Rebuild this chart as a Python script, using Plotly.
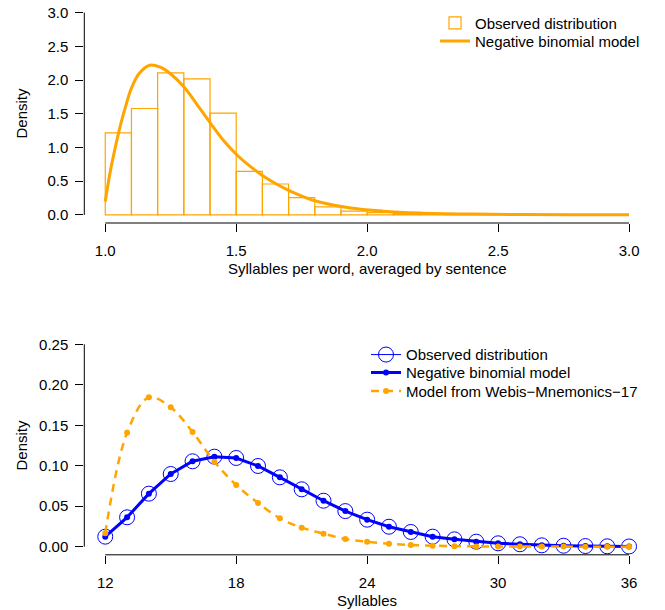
import plotly.graph_objects as go

# ---------------- data ----------------
# Top panel: histogram of syllables per word (averaged by sentence)
hist_bin_centers = [1.05, 1.15, 1.25, 1.35, 1.45, 1.55, 1.65, 1.75, 1.85, 1.95, 2.05, 2.15, 2.25, 2.35, 2.45]
hist_density = [1.215, 1.578, 2.107, 2.018, 1.508, 0.646, 0.458, 0.256, 0.120, 0.057, 0.035, 0.018, 0.008, 0.004, 0.002]
hist_bin_width = 0.1

# Top panel: negative binomial model curve
curve_x = [1.00, 1.02, 1.04, 1.06, 1.08, 1.10, 1.13, 1.17, 1.21, 1.25, 1.30, 1.35, 1.40,
           1.45, 1.50, 1.55, 1.60, 1.65, 1.70, 1.80, 1.93, 2.06, 2.20, 2.40, 2.60, 2.80, 3.00]
curve_y = [0.20, 0.66, 1.03, 1.36, 1.64, 1.88, 2.10, 2.22, 2.19, 2.09, 1.90, 1.64, 1.37,
           1.11, 0.90, 0.73, 0.585, 0.465, 0.365, 0.21, 0.107, 0.056, 0.028, 0.012, 0.005, 0.002, 0.001]

top_xticks = [1.0, 1.5, 2.0, 2.5, 3.0]
top_xticklabels = ["1.0", "1.5", "2.0", "2.5", "3.0"]
top_yticks = [0.0, 0.5, 1.0, 1.5, 2.0, 2.5, 3.0]
top_yticklabels = ["0.0", "0.5", "1.0", "1.5", "2.0", "2.5", "3.0"]

# Bottom panel: syllables per sentence
syllables = [12, 13, 14, 15, 16, 17, 18, 19, 20, 21, 22, 23, 24, 25, 26, 27, 28, 29, 30, 31, 32, 33, 34, 35, 36]
observed = [0.0124, 0.0363, 0.0655, 0.0898, 0.1055, 0.1112, 0.1096, 0.0997, 0.0857, 0.0709, 0.0568,
            0.0440, 0.0334, 0.0247, 0.0182, 0.0124, 0.0091, 0.0062, 0.0042, 0.0030, 0.0017, 0.0012,
            0.0008, 0.0005, 0.0003]
nb_model = [0.0124, 0.0363, 0.0655, 0.0898, 0.1055, 0.1112, 0.1096, 0.0997, 0.0857, 0.0709, 0.0568,
            0.0440, 0.0334, 0.0247, 0.0182, 0.0124, 0.0091, 0.0062, 0.0042, 0.0030, 0.0017, 0.0012,
            0.0008, 0.0005, 0.0003]
webis_model = [0.0165, 0.1408, 0.1845, 0.1722, 0.1417, 0.1050, 0.0762, 0.0540, 0.0351, 0.0235, 0.0161,
               0.0095, 0.0062, 0.0037, 0.0021, 0.0013, 0.0007, 0.0004, 0.0003, 0.0002, 0.0001, 0.0001,
               0.0000, 0.0000, 0.0000]

bot_xticks = [12, 18, 24, 30, 36]
bot_xticklabels = ["12", "18", "24", "30", "36"]
bot_yticks = [0.00, 0.05, 0.10, 0.15, 0.20, 0.25]
bot_yticklabels = ["0.00", "0.05", "0.10", "0.15", "0.20", "0.25"]

# ---------------- styling ----------------
W, H = 665, 610
FONT = "Liberation Sans, Arial, Helvetica, sans-serif"
ORANGE = "#FFA500"
BLUE = "#0000FF"
FS = 15


def px(x):
    return x / W


def py(y):
    return 1 - y / H


fig = go.Figure()

# ---- top panel ----
fig.add_trace(go.Bar(
    x=hist_bin_centers, y=hist_density, width=hist_bin_width,
    marker=dict(color="rgba(255,255,255,0)", line=dict(color=ORANGE, width=1.2)),
    name="Observed distribution", xaxis="x", yaxis="y", legend="legend",
))
fig.add_trace(go.Scatter(
    x=curve_x, y=curve_y, mode="lines", line=dict(color=ORANGE, width=3, shape="spline"),
    name="Negative binomial model", xaxis="x", yaxis="y", legend="legend2",
))

# ---- bottom panel ----
fig.add_trace(go.Scatter(
    x=syllables, y=observed, mode="markers",
    marker=dict(symbol="circle-open", size=15, color=BLUE, line=dict(width=1)),
    name="Observed distribution", xaxis="x2", yaxis="y2", showlegend=False,
))
# legend proxy for observed (circle with thin line, as in the original legend)
fig.add_trace(go.Scatter(
    x=[None], y=[None], mode="lines+markers",
    marker=dict(symbol="circle-open", size=15, color=BLUE, line=dict(width=1)),
    line=dict(color=BLUE, width=1),
    name="Observed distribution", xaxis="x2", yaxis="y2", legend="legend3",
))
fig.add_trace(go.Scatter(
    x=syllables, y=nb_model, mode="lines+markers",
    marker=dict(symbol="circle", size=6, color=BLUE),
    line=dict(color=BLUE, width=3),
    name="Negative binomial model", xaxis="x2", yaxis="y2", legend="legend4",
))
fig.add_trace(go.Scatter(
    x=syllables, y=webis_model, mode="lines+markers",
    marker=dict(symbol="circle", size=6, color=ORANGE),
    line=dict(color=ORANGE, width=2.5, dash="8px,6px", shape="spline"),
    name="Model from Webis\u2212Mnemonics\u221217", xaxis="x2", yaxis="y2", legend="legend5",
))

axis_common = dict(
    showgrid=False, zeroline=False, showline=False, ticks="outside", ticklen=8,
    tickwidth=1, tickcolor="black", tickfont=dict(size=FS, color="black", family=FONT),
    fixedrange=True,
)


def legend_at(x_sym_center, y_center):
    # plotly legend: symbol centre ~20px right of legend x; first row centre ~16px below legend top
    return dict(x=px(x_sym_center - 20), y=py(y_center - 16), xanchor="left", yanchor="top",
                bgcolor="rgba(0,0,0,0)", borderwidth=0,
                font=dict(size=FS, family=FONT, color="black"))


fig.update_layout(
    width=W, height=H,
    margin=dict(l=0, r=0, t=0, b=0),
    paper_bgcolor="white", plot_bgcolor="white",
    font=dict(family=FONT, size=FS, color="black"),
    barmode="overlay",
    xaxis=dict(domain=[px(84.3), px(650)], range=[0.92, 3.08], anchor="y",
               tickmode="array", tickvals=top_xticks, ticktext=top_xticklabels,
               ticklabelstandoff=6, **axis_common),
    yaxis=dict(domain=[py(223), py(4.5)], range=[-0.12, 3.12], anchor="x",
               tickmode="array", tickvals=top_yticks, ticktext=top_yticklabels,
               ticklabelstandoff=4, **axis_common),
    xaxis2=dict(domain=[px(84.3), px(650)], range=[11.04, 36.96], anchor="y2",
                tickmode="array", tickvals=bot_xticks, ticktext=bot_xticklabels,
                ticklabelstandoff=6, **axis_common),
    yaxis2=dict(domain=[py(554.8), py(336.2)], range=[-0.01, 0.26], anchor="x2",
                tickmode="array", tickvals=bot_yticks, ticktext=bot_yticklabels,
                ticklabelstandoff=4, **axis_common),
    legend=legend_at(455, 22.7),
    legend2=legend_at(455, 40.7),
    legend3=legend_at(386, 354.3),
    legend4=legend_at(386, 372.3),
    legend5=legend_at(386, 390.7),
    showlegend=True,
)

# R-style axis lines spanning only the tick range
line_style = dict(color="black", width=1)
fig.add_shape(type="line", xref="x", yref="y domain", x0=top_xticks[0], x1=top_xticks[-1], y0=0, y1=0, line=line_style)
fig.add_shape(type="line", xref="x domain", yref="y", x0=0, x1=0, y0=top_yticks[0], y1=top_yticks[-1], line=line_style)
fig.add_shape(type="line", xref="x2", yref="y2 domain", x0=bot_xticks[0], x1=bot_xticks[-1], y0=0, y1=0, line=line_style)
fig.add_shape(type="line", xref="x2 domain", yref="y2", x0=0, x1=0, y0=bot_yticks[0], y1=bot_yticks[-1], line=line_style)

# axis titles
fig.add_annotation(text="Syllables per word, averaged by sentence", xref="paper", yref="paper",
                   x=px(367), y=py(268), xanchor="center", yanchor="middle", showarrow=False,
                   font=dict(size=FS, family=FONT, color="black"))
fig.add_annotation(text="Density", xref="paper", yref="paper", textangle=-90,
                   x=px(21), y=py(113.5), xanchor="center", yanchor="middle", showarrow=False,
                   font=dict(size=FS, family=FONT, color="black"))
fig.add_annotation(text="Syllables", xref="paper", yref="paper",
                   x=px(367), y=py(600), xanchor="center", yanchor="middle", showarrow=False,
                   font=dict(size=FS, family=FONT, color="black"))
fig.add_annotation(text="Density", xref="paper", yref="paper", textangle=-90,
                   x=px(21), y=py(445.5), xanchor="center", yanchor="middle", showarrow=False,
                   font=dict(size=FS, family=FONT, color="black"))

# remove the default 8px page margin so the figure sits at the window origin
fig.write_html("out.html", config={"displayModeBar": False},
               post_script="document.body.style.margin='0px';")
